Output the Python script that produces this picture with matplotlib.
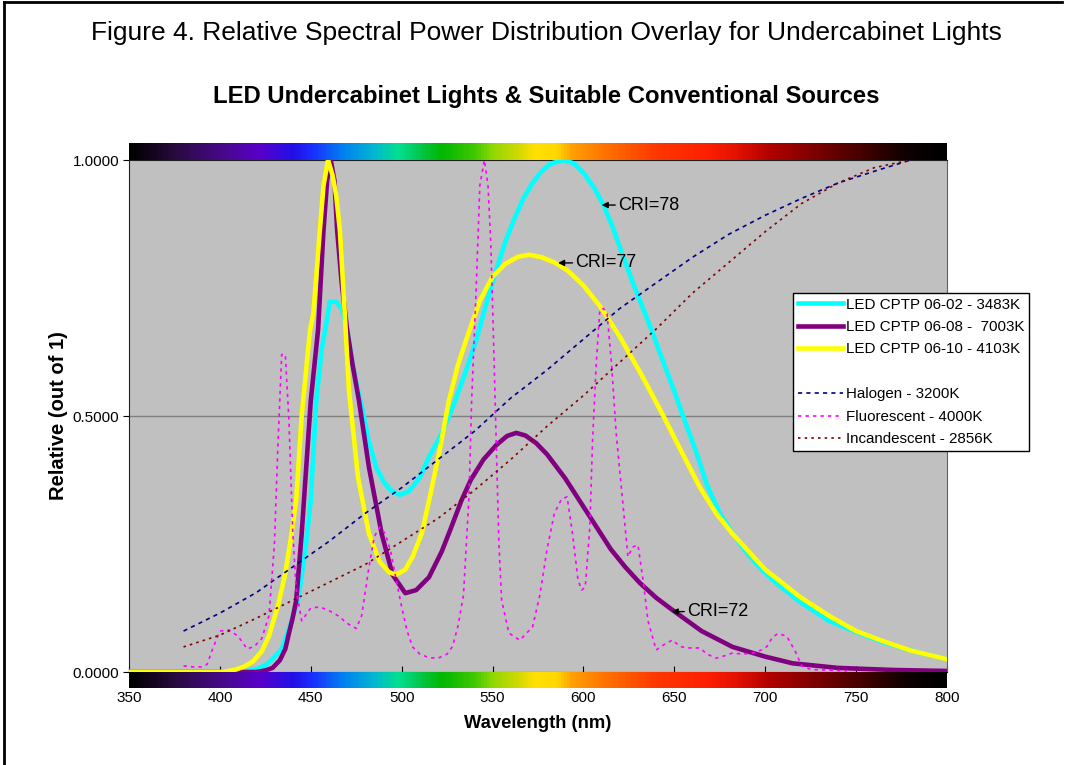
import matplotlib
matplotlib.use("Agg")
import matplotlib.pyplot as plt
from matplotlib.colors import LinearSegmentedColormap
from matplotlib.lines import Line2D
import numpy as np

plt.rcParams["font.family"] = ["Liberation Sans", "DejaVu Sans"]

# LED CPTP 06-02 - 3483K
cyan_nm = [350, 400, 415, 420, 425, 429, 434, 438, 443, 447, 450, 453, 456, 458, 460.5, 464,
           467, 470, 473, 476, 478, 482, 486, 490, 494, 499, 504, 510, 515, 520, 525, 530,
           536, 541, 547, 552, 557, 562, 567, 572, 577, 582, 589, 595, 600, 606, 611, 616,
           621, 627, 632, 637, 644, 650, 655, 662, 668, 675, 682, 690, 698, 706, 719, 735,
           750, 765, 780, 800]
cyan_val = [0, 0, 0.002, 0.006, 0.013, 0.025, 0.045, 0.085, 0.14, 0.238, 0.336, 0.53, 0.63,
            0.67, 0.723, 0.723, 0.71, 0.67, 0.6, 0.55, 0.52, 0.45, 0.40, 0.372, 0.355,
            0.346, 0.353, 0.38, 0.42, 0.452, 0.49, 0.535, 0.595, 0.648, 0.725, 0.785, 0.84,
            0.885, 0.925, 0.955, 0.978, 0.993, 1.0, 0.993, 0.975, 0.945, 0.912, 0.87, 0.82,
            0.762, 0.717, 0.672, 0.605, 0.548, 0.498, 0.43, 0.365, 0.31, 0.271, 0.232, 0.2,
            0.174, 0.137, 0.1, 0.078, 0.058, 0.042, 0.025]

# LED CPTP 06-08 - 7003K
purple_nm = [350, 420, 425, 429, 433, 436, 438, 440, 442, 445, 450, 454, 457, 459, 461, 463,
             464.5, 467, 470, 473, 476.5, 482, 489, 495, 502, 508, 515, 522, 527, 533, 538,
             545, 552, 558, 563, 568, 574, 580, 590, 603.6, 615, 623, 631, 640, 649, 665,
             682, 700, 715, 740, 770, 800]
purple_val = [0, 0, 0.003, 0.008, 0.023, 0.045, 0.076, 0.105, 0.14, 0.27, 0.53, 0.668, 0.863,
              0.96, 1.0, 0.96, 0.863, 0.76, 0.668, 0.6, 0.53, 0.4, 0.27, 0.19, 0.154, 0.16,
              0.185, 0.235, 0.28, 0.336, 0.375, 0.415, 0.443, 0.461, 0.467, 0.462, 0.447,
              0.425, 0.378, 0.303, 0.24, 0.205, 0.174, 0.145, 0.121, 0.08, 0.049, 0.03,
              0.017, 0.008, 0.004, 0.002]

# LED CPTP 06-10 - 4103K
yellow_nm = [350, 400, 405, 409, 413, 418, 423, 427, 432, 436, 439, 442, 445, 449.6, 451.4,
             455, 457, 459.5, 462, 464, 466, 468.8, 471, 476, 482, 488, 493, 497, 502, 506,
             511, 516, 521, 526, 531, 536, 543, 550, 557, 564, 570, 577, 584, 591, 600, 609,
             620, 632, 644, 654, 664, 673, 682, 700, 719, 735, 750, 765, 780, 800]
yellow_val = [0, 0, 0.002, 0.005, 0.01, 0.02, 0.04, 0.07, 0.13, 0.193, 0.26, 0.336, 0.5,
              0.668, 0.7, 0.863, 0.95, 1.0, 0.97, 0.93, 0.863, 0.694, 0.55, 0.38, 0.27, 0.215,
              0.195, 0.19, 0.2, 0.225, 0.27, 0.35, 0.435, 0.53, 0.6, 0.654, 0.725, 0.772,
              0.797, 0.811, 0.815, 0.81, 0.8, 0.785, 0.755, 0.715, 0.655, 0.58, 0.5, 0.43,
              0.361, 0.31, 0.27, 0.2, 0.147, 0.11, 0.08, 0.06, 0.042, 0.025]

# Halogen - 3200K
halogen_nm = [380, 400, 420, 440, 460, 480, 500, 520, 540, 560, 580, 600, 620, 640, 660, 680,
              700, 720, 740, 760, 780]
halogen_val = [0.08, 0.115, 0.155, 0.205, 0.255, 0.31, 0.36, 0.415, 0.47, 0.535, 0.59, 0.65,
               0.71, 0.76, 0.81, 0.855, 0.892, 0.925, 0.955, 0.978, 1.0]

# Fluorescent - 4000K
fluor_nm = [380, 385, 390, 393, 396, 400, 405, 410, 415, 419, 423, 427, 430, 432, 434, 436,
            438, 440, 442, 445, 450, 455, 460, 465, 470, 475, 478, 482, 485, 488, 491, 494,
            497, 500, 503, 506, 510, 515, 520, 525, 528, 531, 534, 537, 538.5, 541, 543,
            545.5, 547.5, 549, 550.5, 552, 553.5, 555, 559, 565, 572, 576, 580, 584, 588,
            591, 594, 597, 599, 601, 603.5, 605, 607, 609, 611, 613, 615.5, 618, 621.5,
            624.5, 627, 630, 633, 635.5, 640, 645, 649, 653, 657, 664, 668, 673, 678, 682,
            688, 693, 698, 701, 704, 707, 710, 712, 715, 717, 720, 725, 740, 745]
fluor_val = [0.012, 0.01, 0.01, 0.015, 0.045, 0.08, 0.082, 0.07, 0.045, 0.05, 0.065, 0.11,
             0.25, 0.45, 0.62, 0.62, 0.49, 0.28, 0.16, 0.1, 0.125, 0.127, 0.12, 0.11, 0.095,
             0.085, 0.11, 0.205, 0.265, 0.283, 0.27, 0.235, 0.18, 0.127, 0.08, 0.049, 0.035,
             0.028, 0.027, 0.035, 0.05, 0.09, 0.15, 0.34, 0.53, 0.75, 0.95, 1.0, 0.95, 0.84,
             0.655, 0.45, 0.25, 0.14, 0.076, 0.062, 0.088, 0.15, 0.24, 0.31, 0.338, 0.342,
             0.27, 0.18, 0.16, 0.166, 0.283, 0.45, 0.6, 0.707, 0.71, 0.7, 0.6, 0.467, 0.336,
             0.225, 0.244, 0.248, 0.174, 0.1, 0.043, 0.055, 0.0625, 0.05, 0.047, 0.047, 0.035,
             0.027, 0.032, 0.037, 0.035, 0.037, 0.043, 0.05, 0.068, 0.075, 0.072, 0.069,
             0.05, 0.037, 0.012, 0.005, 0.003, 0.002]

# Incandescent - 2856K
incand_nm = [380, 400, 420, 440, 460, 480, 500, 520, 540, 560, 580, 600, 620, 640, 660, 680,
             700, 720, 740, 760, 780]
incand_val = [0.049, 0.072, 0.105, 0.14, 0.175, 0.21, 0.255, 0.3, 0.355, 0.415, 0.48, 0.54,
              0.605, 0.67, 0.74, 0.80, 0.86, 0.915, 0.955, 0.985, 1.0]

# spectrum colour stops for the bars
spec_nm = [350, 375, 403, 421, 440, 451, 467, 485, 498, 509, 522, 540, 550, 564, 573, 585,
           594, 613, 640, 668, 686, 704, 723, 741, 759, 778, 796, 800]
spec_col = ["#000000", "#2a0a40", "#4a0890", "#5a00c8", "#2010e8", "#1a30ff", "#0080f0",
            "#00b8d0", "#00e090", "#00c850", "#00b800", "#40c800", "#90d800", "#d0d800",
            "#ffe000", "#ffd800", "#ffa000", "#ff7000", "#ff3800", "#ff2000", "#e01000",
            "#b00000", "#880000", "#600000", "#3a0000", "#100000", "#000000", "#000000"]

W, H = 1076, 765
fig = plt.figure(figsize=(W / 100, H / 100), dpi=100)
fig.patch.set_facecolor("white")

def fx(px):
    return px / W

def fy(py):
    return 1 - py / H

ax = fig.add_axes([fx(129), fy(672), fx(947) - fx(129), fy(160) - fy(672)])
ax.set_facecolor("#C0C0C0")
ax.set_xlim(350, 800)
ax.set_ylim(0, 1)
ax.axhline(0.5, color="#808080", lw=1, zorder=1)

ax.plot(cyan_nm, cyan_val, color="#00FFFF", lw=3.3, label="LED CPTP 06-02 - 3483K", zorder=3)
ax.plot(purple_nm, purple_val, color="#800080", lw=3.3, label="LED CPTP 06-08 -  7003K", zorder=4)
ax.plot(yellow_nm, yellow_val, color="#FFFF00", lw=3.3, label="LED CPTP 06-10 - 4103K", zorder=5)
ax.plot([], [], color="none", label=" ")
ax.plot(halogen_nm, halogen_val, color="#000080", lw=1.2, dashes=(2.5, 2.5),
        label="Halogen - 3200K", zorder=6)
ax.plot(fluor_nm, fluor_val, color="#FF00FF", lw=1.2, dashes=(2, 2.5),
        label="Fluorescent - 4000K", zorder=6)
ax.plot(incand_nm, incand_val, color="#800000", lw=1.2, dashes=(1.5, 2.5),
        label="Incandescent - 2856K", zorder=6)

ax.set_yticks([0, 0.5, 1])
ax.set_yticklabels(["0.0000", "0.5000", "1.0000"], fontsize=11)
ax.set_xticks(np.arange(350, 801, 50))
ax.tick_params(axis="x", direction="in", length=4, labelbottom=False)
ax.tick_params(axis="y", direction="out", length=4, pad=3)
for s in ["left", "bottom", "top"]:
    ax.spines[s].set_color("#202020")
ax.spines["right"].set_color("#606060")

# annotations
for txt, tip, tx in [("CRI=78", (610, 0.912), 619),
                     ("CRI=77", (586, 0.799), 595.5),
                     ("CRI=72", (648.5, 0.118), 657)]:
    ax.annotate(txt, xy=tip, xytext=(tx, tip[1]), fontsize=13, va="center", ha="left",
                arrowprops=dict(arrowstyle="-|>", color="black", lw=1, mutation_scale=9,
                                shrinkA=0, shrinkB=0), zorder=7)

# spectrum bars
cmap = LinearSegmentedColormap.from_list(
    "spec", list(zip([(n - 350) / 450 for n in spec_nm], spec_col)))
grad = np.linspace(0, 1, 900).reshape(1, -1)
top = fig.add_axes([fx(129), fy(160), fx(947) - fx(129), fy(143) - fy(160)])
bot = fig.add_axes([fx(129), fy(688), fx(947) - fx(129), fy(672) - fy(688)])
for b in (top, bot):
    b.imshow(grad, cmap=cmap, aspect="auto", extent=[350, 800, 0, 1])
    b.set_xlim(350, 800)
    b.set_yticks([])
    for s in b.spines.values():
        s.set_visible(False)
top.set_xticks([])
bot.set_xticks(np.arange(350, 801, 50))
bot.set_xticklabels([str(v) for v in range(350, 801, 50)], fontsize=11)
bot.tick_params(axis="x", length=0, pad=2)

leg = ax.legend(loc="upper left", bbox_to_anchor=(fx(793), fy(293)),
                bbox_transform=fig.transFigure, fontsize=10.9, frameon=True,
                fancybox=False, edgecolor="black", framealpha=1, handlelength=3.0,
                handletextpad=0.2, borderpad=0.3, labelspacing=0.56, borderaxespad=0)
leg.get_frame().set_linewidth(1)

fig.text(fx(546), fy(33), "Figure 4. Relative Spectral Power Distribution Overlay for Undercabinet Lights",
         ha="center", va="center", fontsize=19)
fig.text(fx(546), fy(97), "LED Undercabinet Lights & Suitable Conventional Sources",
         ha="center", va="center", fontsize=17.2, fontweight="bold")
fig.text(fx(538), fy(723), "Wavelength (nm)", ha="center", va="center",
         fontsize=13.2, fontweight="bold")
fig.text(fx(58), fy(416), "Relative (out of 1)", ha="center", va="center",
         fontsize=14.5, fontweight="bold", rotation=90)

# outer frame
fig.add_artist(Line2D([fx(4), fx(4)], [0, fy(2)], transform=fig.transFigure, color="black", lw=2))
fig.add_artist(Line2D([fx(4), fx(1062)], [fy(2), fy(2)], transform=fig.transFigure, color="black", lw=2))

fig.savefig("out.png", dpi=100)
